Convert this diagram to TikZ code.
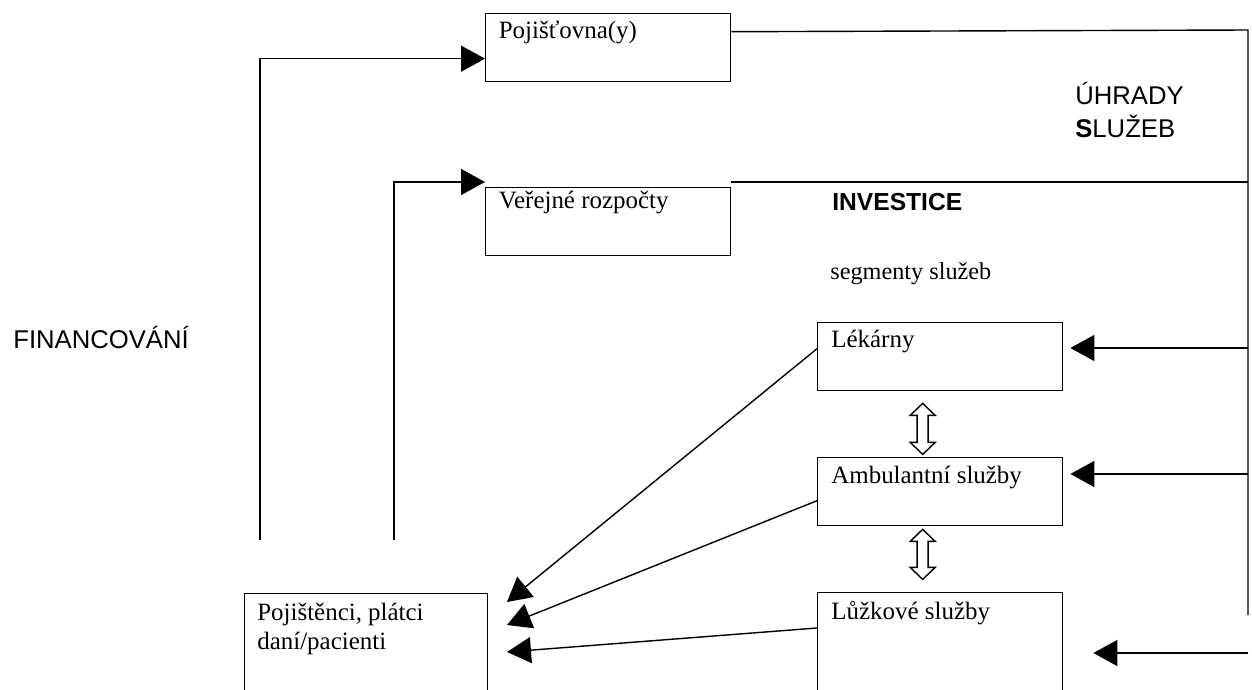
\documentclass[tikz,border=0pt]{standalone}
\usepackage{fontspec}
\setmainfont{Liberation Serif}
\setsansfont{Liberation Sans}
\usetikzlibrary{arrows.meta}

\tikzset{
  box/.style={draw, line width=0.8pt, minimum width=4.9cm, minimum height=1.36cm, inner sep=0pt},
  txt/.style={anchor=base west, inner sep=0pt, align=left, font=\fontsize{14.2}{17}\selectfont},
  nadpis/.style={anchor=base west, inner sep=0pt, align=left, font=\sffamily\fontsize{14.6}{18.7}\selectfont},
  tok/.style={line width=0.8pt, -{Triangle[length=0.48cm, width=0.52cm]}},
  vazba/.style={line width=0.8pt, line join=miter},
}

\begin{document}
\begin{tikzpicture}[x=0.02cm, y=-0.02cm]
	\clip (0, 0) rectangle (1252, 690);
	
	% Zdroje
	\node [box, anchor=north west, label={[txt, xshift=0.27cm, yshift=-0.52cm]north west:Pojišťovna(y)}] (poj) at (485, 13) {};
	\node [box, anchor=north west, label={[txt, xshift=0.27cm, yshift=-0.44cm]north west:Veřejné rozpočty}] (ver) at (485, 187) {};
	
	% Segmenty služeb
	\node [box, anchor=north west, label={[txt, xshift=0.28cm, yshift=-0.52cm]north west:Lékárny}] (lek) at (817, 322) {};
	\node [box, anchor=north west, label={[txt, xshift=0.28cm, yshift=-0.52cm]north west:Ambulantní služby}] (amb) at (817, 457) {};
	\node [box, anchor=north west, minimum height=2.6cm, label={[txt, xshift=0.28cm, yshift=-0.54cm]north west:Lůžkové služby}] (luz) at (817, 592) {};
	\node [box, anchor=north west, minimum width=4.86cm, minimum height=2.6cm, label={[txt, xshift=0.26cm, yshift=-1.14cm]north west:{Pojištěnci, plátci\\daní/pacienti}}] (pac) at (244, 593) {};
	
	% Obousměrné šipky mezi segmenty
	\draw [vazba] ([xshift=-0.35cm, yshift=-0.24cm]lek.south) coordinate (d1)
		-- ++(12.5, 12) -- ++(-7, 0) -- ++(0, 27) -- ++(7, 0) -- ++(-12.5, 12)
		-- ++(-12.5, -12) -- ++(7, 0) -- ++(0, -27) -- ++(-7, 0) -- cycle;
	\draw [vazba] ([xshift=-0.35cm, yshift=-0.06cm]amb.south) coordinate (d2)
		-- ++(12.5, 12) -- ++(-7, 0) -- ++(0, 26) -- ++(7, 0) -- ++(-12.5, 12)
		-- ++(-12.5, -12) -- ++(7, 0) -- ++(0, -26) -- ++(-7, 0) -- cycle;
	
	% Nadpisy
	\node [nadpis] (fin) at (13, 348) {FINANCOVÁNÍ};
	\node [nadpis] (uhr) at (1075, 137) {ÚHRADY\\\textbf{S}LUŽEB};
	\node [nadpis, font=\sffamily\bfseries\fontsize{14}{17}\selectfont] (inv) at (832, 210) {INVESTICE};
	\node [txt, font=\fontsize{13.8}{17}\selectfont] (seg) at (830, 279) {segmenty služeb};
	
	% Financování
	\coordinate (f1) at (260, 540);
	\coordinate (f2) at (394, 540);
	\draw [tok] (f1) |- ([yshift=-0.22cm]poj.west);
	\draw [tok] (f2) |- ([yshift=0.1cm]ver.north west);
	
	% Úhrady
	\coordinate (r1) at (1248, 30);
	\coordinate (r2) at (1248, 615);
	\coordinate (u1) at (1248, 348);
	\coordinate (u2) at (1248, 474);
	\coordinate (u3) at (1248, 653);
	\draw [line width=0.8pt] ([yshift=0.32cm]poj.east) -- (r1) -- (r2);
	\draw [line width=0.8pt] ([yshift=0.1cm]ver.north east) coordinate (v0) -- (v0 -| r1);
	\draw [tok] (u1) -- ([xshift=0.14cm]u1 -| lek.east);
	\draw [tok] (u2) -- ([xshift=0.14cm]u2 -| amb.east);
	\draw [tok] (u3) -- ([xshift=0.6cm]u3 -| luz.east);
	
	% Služby pacientům
	\coordinate (t1) at (507, 602);
	\coordinate (t2) at (507, 625);
	\coordinate (t3) at (507, 652);
	\draw [tok] ([yshift=0.16cm]lek.west) -- (t1);
	\draw [tok] ([yshift=-0.18cm]amb.west) -- (t2);
	\draw [tok] ([yshift=-0.72cm]luz.north west) -- (t3);
\end{tikzpicture}
\end{document}
